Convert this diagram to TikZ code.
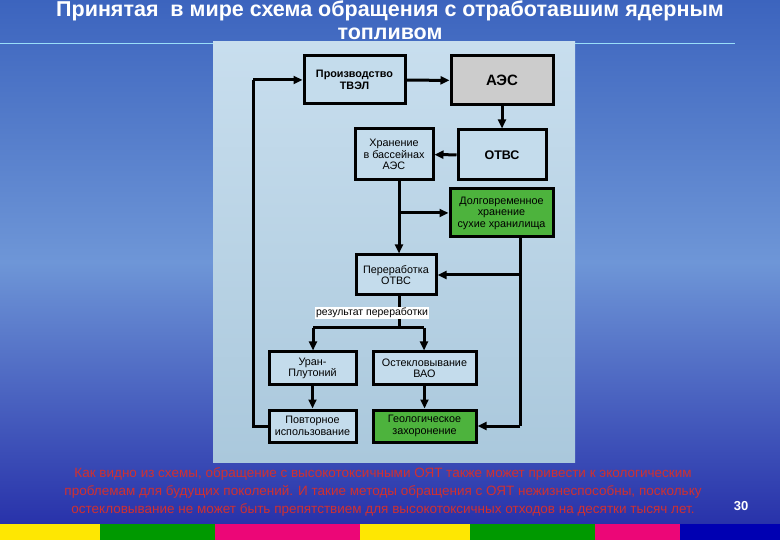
\documentclass[tikz,border=0pt]{standalone}
\usepackage{fontspec}
\setmainfont{Liberation Sans}
\usetikzlibrary{arrows.meta}
\begin{document}
\begin{tikzpicture}[x=1pt,y=-1pt,
  bx/.style={draw=black,line width=3pt,fill=panelbox,align=center,font=\fontsize{10.8}{11.5}\selectfont,inner sep=0pt},
  ln/.style={line width=3pt,draw=black},
  ar/.style={ln,-{Triangle[length=9pt,width=8pt]}}]
\definecolor{panelbox}{HTML}{C4DCEC}
\definecolor{grn}{HTML}{4DB33D}
\definecolor{txtred}{HTML}{D03030}
\useasboundingbox (0,0) rectangle (780,540);
\shade[top color={rgb,255:red,60;green,100;blue,190},bottom color={rgb,255:red,40;green,50;blue,170},middle color={rgb,255:red,110;green,150;blue,215}] (0,0) rectangle (780,524);
\fill[yellow!90!orange] (0,524) rectangle (100,540);
\fill[green!60!black] (100,524) rectangle (215,540);
\fill[magenta!80!red] (215,524) rectangle (360,540);
\fill[yellow!90!orange] (360,524) rectangle (470,540);
\fill[green!60!black] (470,524) rectangle (595,540);
\fill[magenta!80!red] (595,524) rectangle (680,540);
\fill[blue!70!black] (680,524) rectangle (780,540);
\draw[cyan!40,line width=0.6pt] (0,43) -- (735,43);
\node[text=white,font=\bfseries\fontsize{21.5}{23}\selectfont,align=center] (title) at (390,20) {Принятая \ в мире схема обращения с отработавшим ядерным\\топливом};
\shade[top color={rgb,255:red,200;green,222;blue,238},bottom color={rgb,255:red,170;green,200;blue,220}] (213,42) rectangle (575,462);
\node[bx,minimum width=101pt,minimum height=48pt] (prod) at (354.5,80) {\textbf{Производство}\\\textbf{ТВЭЛ}};
\node[bx,fill=gray!40,minimum width=102pt,minimum height=49pt,font=\bfseries\fontsize{15}{17}\selectfont] (aes) at (502,80.5) {АЭС};
\node[bx,minimum width=78pt,minimum height=51pt] (hran) at (394,154.5) {Хранение\\в бассейнах\\АЭС};
\node[bx,minimum width=88pt,minimum height=50pt,font=\bfseries\fontsize{12.5}{14}\selectfont] (otvs) at (502,155) {ОТВС};
\node[bx,fill=grn,minimum width=103pt,minimum height=48pt] (dolg) at (501.5,213) {Долговременное\\хранение\\сухие хранилища};
\node[bx,minimum width=80pt,minimum height=40pt] (pere) at (396,275) {Переработка\\ОТВС};
\node[bx,minimum width=87pt,minimum height=33pt] (uran) at (312.5,368.5) {Уран-\\Плутоний};
\node[bx,minimum width=103pt,minimum height=33pt] (ostek) at (424.5,368.5) {Остекловывание\\ВАО};
\node[bx,minimum width=87pt,minimum height=32pt] (povt) at (312.5,426) {Повторное\\использование};
\node[bx,fill=grn,minimum width=103pt,minimum height=32pt] (geol) at (424.5,426) {Геологическое\\захоронение};
\coordinate (lc) at (253,426);
\coordinate (lt) at (253,80);
\coordinate (br) at (399,213);
\coordinate (rb) at (520,275);
\coordinate (rg) at (520,426);
\coordinate (sp) at (399,328);
\coordinate (sl) at (313,328);
\coordinate (sr) at (424,328);
\draw[ln] (povt.west) -- (lc) -- (lt);
\draw[ar] (lt) -- (prod.west);
\draw[ar] (prod) -- (aes);
\draw[ar] (aes) -- (otvs);
\draw[ar] (otvs) -- (hran);
\draw[ar] (hran.south -| br) -- (pere.north -| br);
\draw[ar] (br) -- (dolg.west);
\draw[ln] (dolg.south -| rb) -- (rg);
\draw[ar] (rg) -- (geol.east);
\draw[ar] (rb) -- (pere.east |- rb);
\draw[ln] (pere.south -| sp) -- (sp);
\draw[ln] (sl) -- (sr);
\draw[ar] (sl) -- (uran.north -| sl);
\draw[ar] (sr) -- (ostek.north -| sr);
\draw[ar] (uran) -- (povt);
\draw[ar] (ostek) -- (geol);
\node[fill=white,inner sep=1pt,font=\fontsize{10.5}{11}\selectfont] (res) at (372,313) {результат переработки};
\node[text=txtred,align=center,font=\fontsize{13.5}{18}\selectfont] (note) at (383,492) {Как видно из схемы, обращение с высокотоксичными ОЯТ также может привести к экологическим\\проблемам для будущих поколений. И такие методы обращения с ОЯТ нежизнеспособны, поскольку\\остекловывание не может быть препятствием для высокотоксичных отходов на десятки тысяч лет.};
\node[text=white,font=\bfseries\fontsize{13}{15}\selectfont] (num) at (741,506) {30};
\end{tikzpicture}
\end{document}
